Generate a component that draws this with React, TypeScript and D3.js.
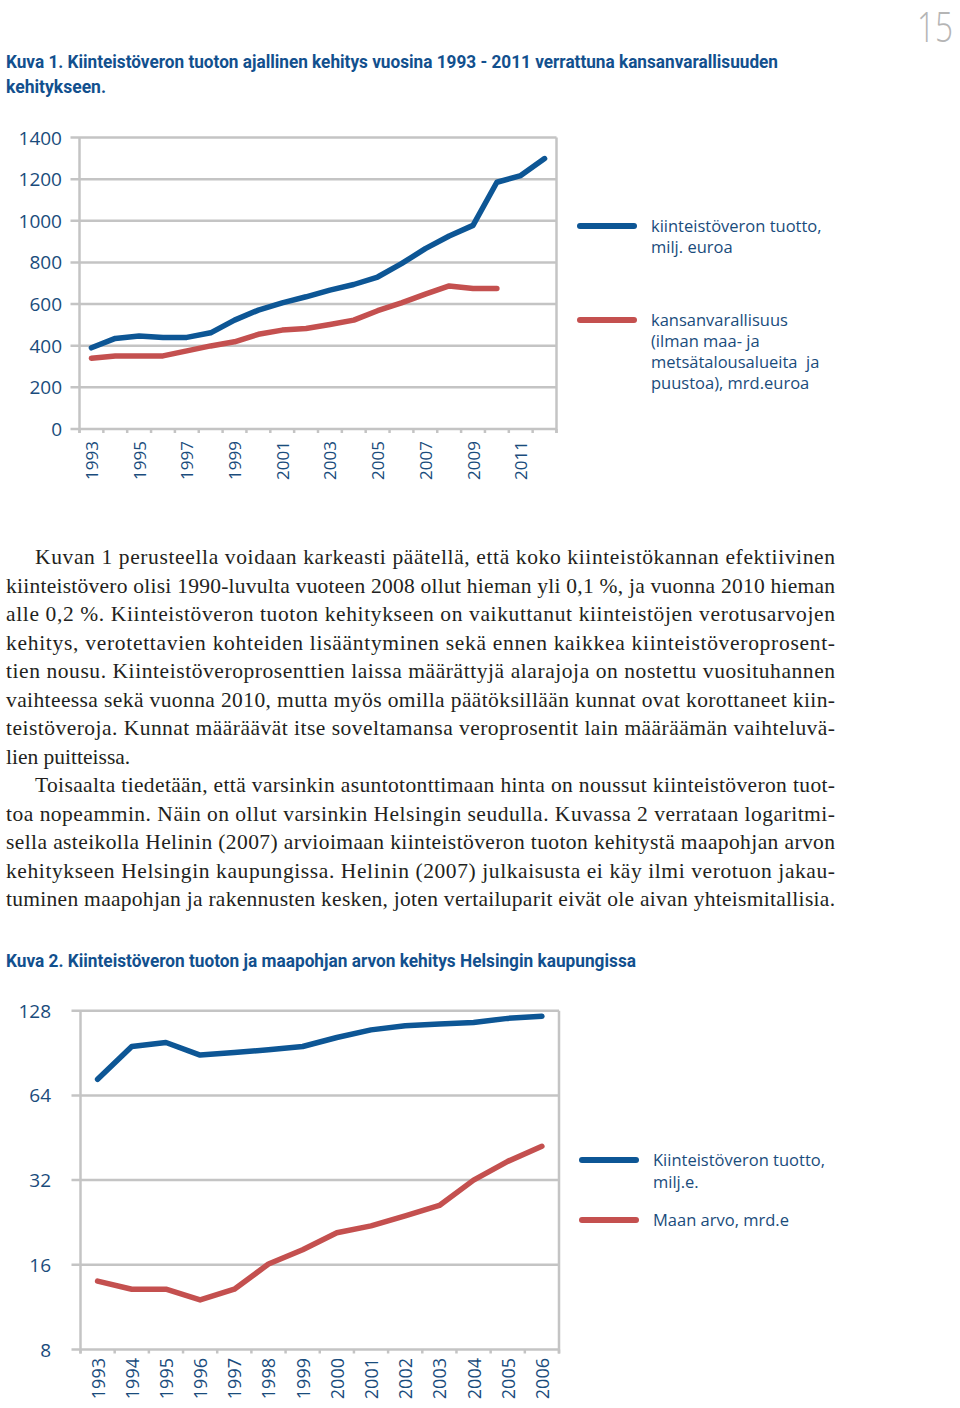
import * as d3 from "d3";

// Kuva 1
const years1 = ["1993", "1994", "1995", "1996", "1997", "1998", "1999", "2000", "2001", "2002",
  "2003", "2004", "2005", "2006", "2007", "2008", "2009", "2010", "2011", "2012"];
const labels1 = ["1993", "1995", "1997", "1999", "2001", "2003", "2005", "2007", "2009", "2011"];
const tax1 = [390, 435, 447, 440, 440, 462, 523, 571, 606, 635, 667, 694, 730, 794, 866, 927, 978, 1185, 1217, 1299];
const wealth1 = [340, 351, 351, 351, 375, 399, 419, 455, 475, 483, 502, 523, 568, 606, 648, 687, 675, 675];
const ticks1 = [0, 200, 400, 600, 800, 1000, 1200, 1400];
const legend1a = ["kiinteistöveron tuotto,", "milj. euroa"];
const legend1b = ["kansanvarallisuus", "(ilman maa- ja", "metsätalousalueita  ja", "puustoa), mrd.euroa"];

// Kuva 2
const years2 = ["1993", "1994", "1995", "1996", "1997", "1998", "1999", "2000", "2001", "2002",
  "2003", "2004", "2005", "2006"];
const tax2 = [73, 95.5, 98.7, 89, 90.9, 92.9, 95.5, 102.8, 109.4, 113.1, 114.7, 116.3, 120.2, 122.3];
const land2 = [14.0, 13.1, 13.1, 12.0, 13.1, 16.1, 18.1, 20.8, 22.0, 23.9, 26.0, 32, 37.3, 42.2];
const ticks2 = [8, 16, 32, 64, 128];
const legend2a = ["Kiinteistöveron tuotto,", "milj.e."];
const legend2b = ["Maan arvo, mrd.e"];

const title1 = ["Kuva 1. Kiinteistöveron tuoton ajallinen kehitys vuosina 1993 - 2011 verrattuna kansanvarallisuuden", "kehitykseen."];
const title2 = "Kuva 2. Kiinteistöveron tuoton ja maapohjan arvon kehitys Helsingin kaupungissa";

const body = [
  "Kuvan 1 perusteella voidaan karkeasti päätellä, että koko kiinteistökannan efektiivinen",
  "kiinteistövero olisi 1990-luvulta vuoteen 2008 ollut hieman yli 0,1 %, ja vuonna 2010 hieman",
  "alle 0,2 %. Kiinteistöveron tuoton kehitykseen on vaikuttanut kiinteistöjen verotusarvojen",
  "kehitys, verotettavien kohteiden lisääntyminen sekä ennen kaikkea kiinteistöveroprosent-",
  "tien nousu. Kiinteistöveroprosenttien laissa määrättyjä alarajoja on nostettu vuosituhannen",
  "vaihteessa sekä vuonna 2010, mutta myös omilla päätöksillään kunnat ovat korottaneet kiin-",
  "teistöveroja. Kunnat määräävät itse soveltamansa veroprosentit lain määräämän vaihteluvä-",
  "lien puitteissa.",
  "Toisaalta tiedetään, että varsinkin asuntotonttimaan hinta on noussut kiinteistöveron tuot-",
  "toa nopeammin. Näin on ollut varsinkin Helsingin seudulla. Kuvassa 2 verrataan logaritmi-",
  "sella asteikolla Helinin (2007) arvioimaan kiinteistöveron tuoton kehitystä maapohjan arvon",
  "kehitykseen Helsingin kaupungissa. Helinin (2007) julkaisusta ei käy ilmi verotuon jakau-",
  "tuminen maapohjan ja rakennusten kesken, joten vertailuparit eivät ole aivan yhteismitallisia.",
];
const indented = [0, 8];
const ragged = [7];

const BLUE = "#0d5695";
const RED = "#c4504f";
const GRID = "#c4c4c4";
const LABEL = "#1a4c7c";
const TITLE = "#12508e";
const SANS = "'Open Sans', 'Noto Sans', sans-serif";
const SERIF = "'Liberation Serif', 'DejaVu Serif', serif";
const NARROW = "'Liberation Sans Narrow', 'Roboto', sans-serif";

type Series = { values: number[]; color: string };

const LineChart = ({ years, labels, series, y, x0, x1, ticks, tickRight, labelTop, fontSize }: {
  years: string[]; labels: string[]; series: Series[]; y: any; x0: number; x1: number;
  ticks: number[]; tickRight: number; labelTop: number; fontSize: number;
}) => {
  const x = d3.scaleBand().domain(years).range([x0, x1]);
  const [yBottom, yTop] = y.range();
  const bw = x.bandwidth();
  const line = d3.line<number>()
    .x((_, i) => x(years[i])! + bw / 2)
    .y(d => y(d));
  return (
    <g>
      {ticks.map(t => (
        <line key={t} x1={x0 - 9} x2={x1} y1={y(t)} y2={y(t)} stroke={GRID} strokeWidth={2.5} />
      ))}
      <line x1={x0} x2={x0} y1={yTop} y2={yBottom + 4} stroke={GRID} strokeWidth={2.5} />
      <line x1={x1} x2={x1} y1={yTop} y2={yBottom + 4} stroke={GRID} strokeWidth={2.5} />
      {d3.range(years.length + 1).map(i => (
        <line key={i} x1={x0 + i * bw} x2={x0 + i * bw} y1={yBottom} y2={yBottom + 4}
          stroke={GRID} strokeWidth={2.5} />
      ))}
      {ticks.map(t => (
        <text key={t} x={tickRight} y={y(t)} textAnchor="end" dominantBaseline="central"
          fontFamily={SANS} fontSize={19} fill={LABEL}>{t}</text>
      ))}
      {labels.map(l => (
        <text key={l} transform={`translate(${x(l)! + bw / 2},${labelTop}) rotate(-90)`}
          textAnchor="end" dominantBaseline="central" fontFamily={SANS} fontSize={fontSize}
          fill={LABEL}>{l}</text>
      ))}
      {series.map((s, i) => (
        <path key={i} d={line(s.values)!} fill="none" stroke={s.color} strokeWidth={5.5}
          strokeLinecap="round" strokeLinejoin="round" />
      ))}
    </g>
  );
};

const Legend = ({ x, y, color, lines, gap }: { x: number; y: number; color: string; lines: string[]; gap: number }) => (
  <g>
    <line x1={x} x2={x + 54} y1={y} y2={y} stroke={color} strokeWidth={6} strokeLinecap="round" />
    {lines.map((l, i) => (
      <text key={i} x={x + 71} y={y + 6 + i * gap} fontFamily={SANS} fontSize={16.5} fill={LABEL}
        style={{ whiteSpace: "pre" }}>{l}</text>
    ))}
  </g>
);

const App = () => {
  const y1 = d3.scaleLinear().domain([0, 1400]).range([429, 137.5]);
  const y2 = d3.scaleLog().base(2).domain([8, 128]).range([1349.5, 1010.7]);
  return (
    <svg width={960} height={1408} style={{ position: "absolute", left: 0, top: 0, background: "#fff" }}>
      <text x={953} y={42} textAnchor="end" fontFamily={SANS} fontWeight={300} fontSize={42}
        fill="#b5b5b5" textLength={36} lengthAdjust="spacingAndGlyphs">15</text>

      <text x={6} y={67.5} fontFamily={NARROW} fontWeight="bold" fontSize={19} fill={TITLE}
        textLength={772} lengthAdjust="spacingAndGlyphs">{title1[0]}</text>
      <text x={6} y={92.5} fontFamily={NARROW} fontWeight="bold" fontSize={19} fill={TITLE}
        textLength={100} lengthAdjust="spacingAndGlyphs">{title1[1]}</text>

      <LineChart years={years1} labels={labels1} y={y1} x0={79.5} x1={556.5} ticks={ticks1}
        tickRight={62} labelTop={441} fontSize={17}
        series={[{ values: tax1, color: BLUE }, { values: wealth1, color: RED }]} />
      <Legend x={580} y={226} color={BLUE} lines={legend1a} gap={20.5} />
      <Legend x={580} y={320} color={RED} lines={legend1b} gap={21} />

      {body.map((l, i) => {
        const x = indented.includes(i) ? 35 : 6;
        const just = !ragged.includes(i);
        return (
          <text key={i} x={x} y={564 + i * 28.5} fontFamily={SERIF} fontSize={21.5} fill="#231f20"
            textLength={just ? 835 - x : undefined} lengthAdjust="spacing">{l}</text>
        );
      })}

      <text x={6} y={967} fontFamily={NARROW} fontWeight="bold" fontSize={19} fill={TITLE}
        textLength={630} lengthAdjust="spacingAndGlyphs">{title2}</text>

      <LineChart years={years2} labels={years2} y={y2} x0={80.5} x1={559} ticks={ticks2}
        tickRight={51} labelTop={1358} fontSize={18}
        series={[{ values: tax2, color: BLUE }, { values: land2, color: RED }]} />
      <Legend x={582} y={1160} color={BLUE} lines={legend2a} gap={22} />
      <Legend x={582} y={1220} color={RED} lines={legend2b} gap={22} />
    </svg>
  );
};

export default App;
